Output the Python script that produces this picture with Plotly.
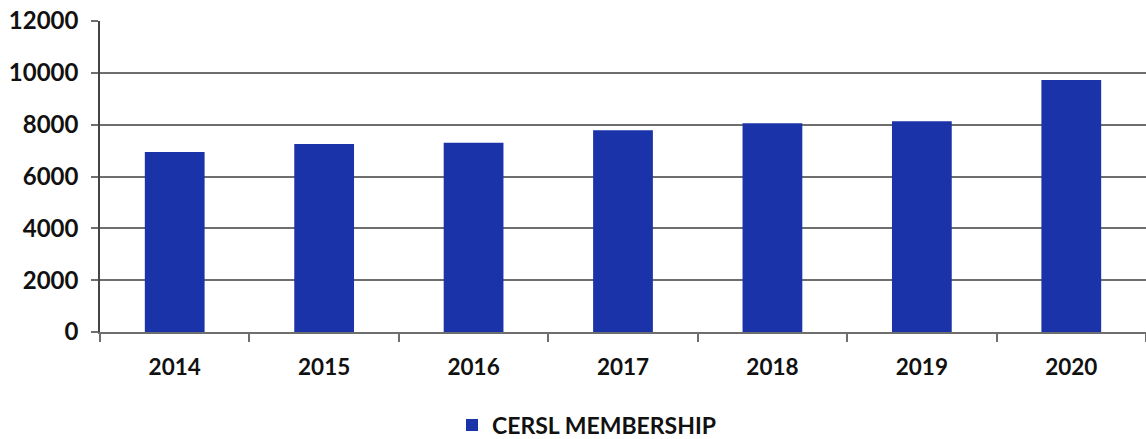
import plotly.graph_objects as go

years = ["2014", "2015", "2016", "2017", "2018", "2019", "2020"]
membership = [6950, 7250, 7300, 7780, 8050, 8130, 9720]
y_ticks = [0, 2000, 4000, 6000, 8000, 10000, 12000]

bar_color = "#1B33A8"
grid_color = "#6E6E6E"
font_family = "Lato, 'Open Sans', sans-serif"

fig = go.Figure()
fig.add_trace(go.Bar(
    x=years,
    y=membership,
    name="CERSL MEMBERSHIP",
    marker=dict(color=bar_color, line=dict(width=0)),
))

fig.update_layout(
    width=1146,
    height=439,
    margin=dict(l=100, r=0, t=21, b=107, autoexpand=False),
    paper_bgcolor="white",
    plot_bgcolor="white",
    bargap=0.6,
    font=dict(family=font_family, color="#111111"),
    showlegend=True,
    legend=dict(
        orientation="h",
        x=452 / 1146,
        xanchor="left",
        xref="container",
        y=1 - 425 / 439,
        yanchor="middle",
        yref="container",
        itemwidth=30,
        font=dict(size=23, family=font_family, color="#111111", weight="bold"),
        bgcolor="rgba(0,0,0,0)",
    ),
    xaxis=dict(
        type="category",
        showgrid=False,
        showline=True,
        linecolor=grid_color,
        linewidth=1.5,
        ticks="outside",
        tickson="boundaries",
        ticklen=8,
        tickcolor=grid_color,
        tickwidth=1.5,
        tickfont=dict(size=22.5, family=font_family, color="#111111", weight="bold"),
        ticklabelstandoff=14,
        zeroline=False,
    ),
    yaxis=dict(
        range=[0, 12000],
        tickvals=y_ticks,
        ticktext=[str(v) for v in y_ticks],
        showgrid=True,
        gridcolor=grid_color,
        gridwidth=1.5,
        showline=True,
        linecolor="#444444",
        linewidth=1.5,
        ticks="outside",
        ticklen=7,
        tickcolor=grid_color,
        tickwidth=1.5,
        tickfont=dict(size=24, family=font_family, color="#111111", weight="bold"),
        ticklabelstandoff=8,
        zeroline=False,
    ),
)

fig.write_html("out.html")
